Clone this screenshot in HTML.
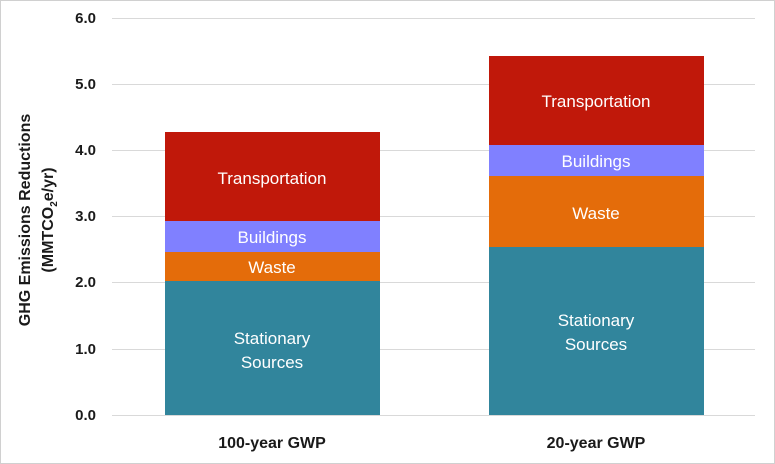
<!DOCTYPE html>
<html><head><meta charset="utf-8"><style>
html,body{margin:0;padding:0;background:#fff}
svg{display:block}
text{font-family:"Liberation Sans",sans-serif}
</style></head><body>
<svg width="775" height="464" viewBox="0 0 775 464">
<rect x="0.5" y="0.5" width="774" height="463" fill="#fff" stroke="#d0d0d0"/>
<g stroke="#d9d9d9" stroke-width="1">
<line x1="112" x2="755" y1="18.5" y2="18.5"/>
<line x1="112" x2="755" y1="84.5" y2="84.5"/>
<line x1="112" x2="755" y1="150.5" y2="150.5"/>
<line x1="112" x2="755" y1="216.5" y2="216.5"/>
<line x1="112" x2="755" y1="282.5" y2="282.5"/>
<line x1="112" x2="755" y1="349.5" y2="349.5"/>
<line x1="112" x2="755" y1="415.5" y2="415.5"/>
</g>
<g font-size="15" font-weight="bold" fill="#1a1a1a" text-anchor="end">
<text x="96" y="23">6.0</text>
<text x="96" y="89">5.0</text>
<text x="96" y="155">4.0</text>
<text x="96" y="221">3.0</text>
<text x="96" y="287">2.0</text>
<text x="96" y="354">1.0</text>
<text x="96" y="420">0.0</text>
</g>
<g font-size="16" font-weight="bold" fill="#1a1a1a" text-anchor="middle">
<text transform="translate(30,220) rotate(-90)">GHG Emissions Reductions</text>
<text transform="translate(53,220) rotate(-90)">(MMTCO<tspan font-size="10" dy="4">2</tspan><tspan dy="-4">e/yr)</tspan></text>
<text x="272" y="448">100-year GWP</text>
<text x="596" y="448">20-year GWP</text>
</g>
<rect x="165" y="281" width="215" height="134" fill="#31859c"/>
<rect x="165" y="252" width="215" height="29" fill="#e46c0a"/>
<rect x="165" y="221" width="215" height="31" fill="#8080ff"/>
<rect x="165" y="132" width="215" height="89" fill="#c0180a"/>
<rect x="489" y="247" width="215" height="168" fill="#31859c"/>
<rect x="489" y="176" width="215" height="71" fill="#e46c0a"/>
<rect x="489" y="145" width="215" height="31" fill="#8080ff"/>
<rect x="489" y="56" width="215" height="89" fill="#c0180a"/>
<g font-size="17" fill="#fff" text-anchor="middle">
<text x="272" y="184">Transportation</text>
<text x="272" y="243">Buildings</text>
<text x="272" y="273">Waste</text>
<text x="272" y="344">Stationary</text>
<text x="272" y="368">Sources</text>
<text x="596" y="107">Transportation</text>
<text x="596" y="167">Buildings</text>
<text x="596" y="219">Waste</text>
<text x="596" y="326">Stationary</text>
<text x="596" y="350">Sources</text>
</g>
</svg>
</body></html>
